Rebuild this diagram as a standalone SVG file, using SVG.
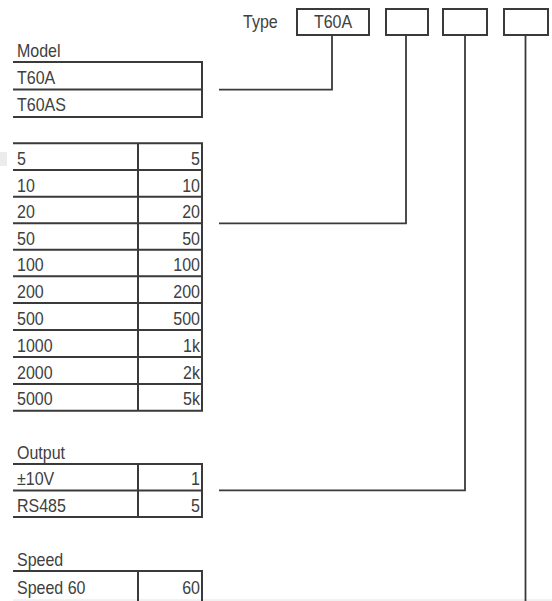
<svg xmlns="http://www.w3.org/2000/svg" width="552" height="601" viewBox="0 0 552 601">
<style>
text{font-family:"Liberation Sans",Arial,sans-serif;font-size:18px;fill:#404040}
.r{text-anchor:end}
.ln{stroke:#3a3a3a;stroke-width:2;fill:none}
.box{stroke:#3a3a3a;stroke-width:2;fill:#fff}
.cn{stroke:#3a3a3a;stroke-width:1.8;fill:none}
</style>
<rect width="552" height="601" fill="#fff"/>
<rect x="0" y="152" width="7" height="14" fill="#ececec"/>
<line x1="13" y1="600" x2="552" y2="600" stroke="#e4e4e4" stroke-width="1"/>

<g id="type">
<text transform="translate(243,28) scale(0.89,1)">Type</text>
</g>
<g id="box-model"><rect class="box" x="297" y="9" width="72" height="26"/><text transform="translate(333,28) scale(0.89,1)" text-anchor="middle">T60A</text></g>
<g id="box-range"><rect class="box" x="386" y="9" width="42" height="26"/></g>
<g id="box-output"><rect class="box" x="443" y="9" width="44" height="26"/></g>
<g id="box-speed"><rect class="box" x="504" y="9" width="44" height="26"/></g>

<g id="model-table">
<path class="ln" d="M13 62H202V117H13M13 89.5H202"/>
<g transform="translate(17,0) scale(0.89,1)">
<text y="57.5">Model</text>
<text y="84.5">T60A</text>
<text y="111.5">T60AS</text>
</g>
</g>

<g id="range-table">
<path class="ln" d="M13 143.3H202V410.7H13M13 170H202M13 196.7H202M13 223.3H202M13 249.8H202M13 276.3H202M13 303H202M13 330H202M13 357H202M13 384H202M138 143.3V410.7"/>
<g transform="translate(17,0) scale(0.89,1)">
<text y="165.5">5</text>
<text y="192">10</text>
<text y="218.5">20</text>
<text y="245">50</text>
<text y="271.5">100</text>
<text y="298">200</text>
<text y="325">500</text>
<text y="352">1000</text>
<text y="379">2000</text>
<text y="405.5">5000</text>
</g>
<g transform="translate(200,0) scale(0.89,1)">
<text class="r" y="165.5">5</text>
<text class="r" y="192">10</text>
<text class="r" y="218.5">20</text>
<text class="r" y="245">50</text>
<text class="r" y="271.5">100</text>
<text class="r" y="298">200</text>
<text class="r" y="325">500</text>
<text class="r" y="352">1k</text>
<text class="r" y="379">2k</text>
<text class="r" y="405.5">5k</text>
</g>
</g>

<g id="output-table">
<path class="ln" d="M13 464H202V517H13M13 490.5H202M138 464V517"/>
<g transform="translate(17,0) scale(0.89,1)">
<text y="459.5">Output</text>
<text y="485.5">±10V</text>
<text y="512.5">RS485</text>
</g>
<g transform="translate(200,0) scale(0.89,1)">
<text class="r" y="485.5">1</text>
<text class="r" y="512.5">5</text>
</g>
</g>

<g id="speed-table">
<path class="ln" d="M13 571H202V601M138 571V601"/>
<g transform="translate(17,0) scale(0.89,1)">
<text y="566.5">Speed</text>
<text y="594.5">Speed 60</text>
</g>
<g transform="translate(200,0) scale(0.89,1)">
<text class="r" y="594.5">60</text>
</g>
</g>

<g id="connectors">
<path class="cn" d="M219 89.7H332V35"/>
<path class="cn" d="M219 223.3H406V35"/>
<path class="cn" d="M219 490.3H465V35"/>
<path class="cn" d="M525.5 35V601"/>
</g>
</svg>
